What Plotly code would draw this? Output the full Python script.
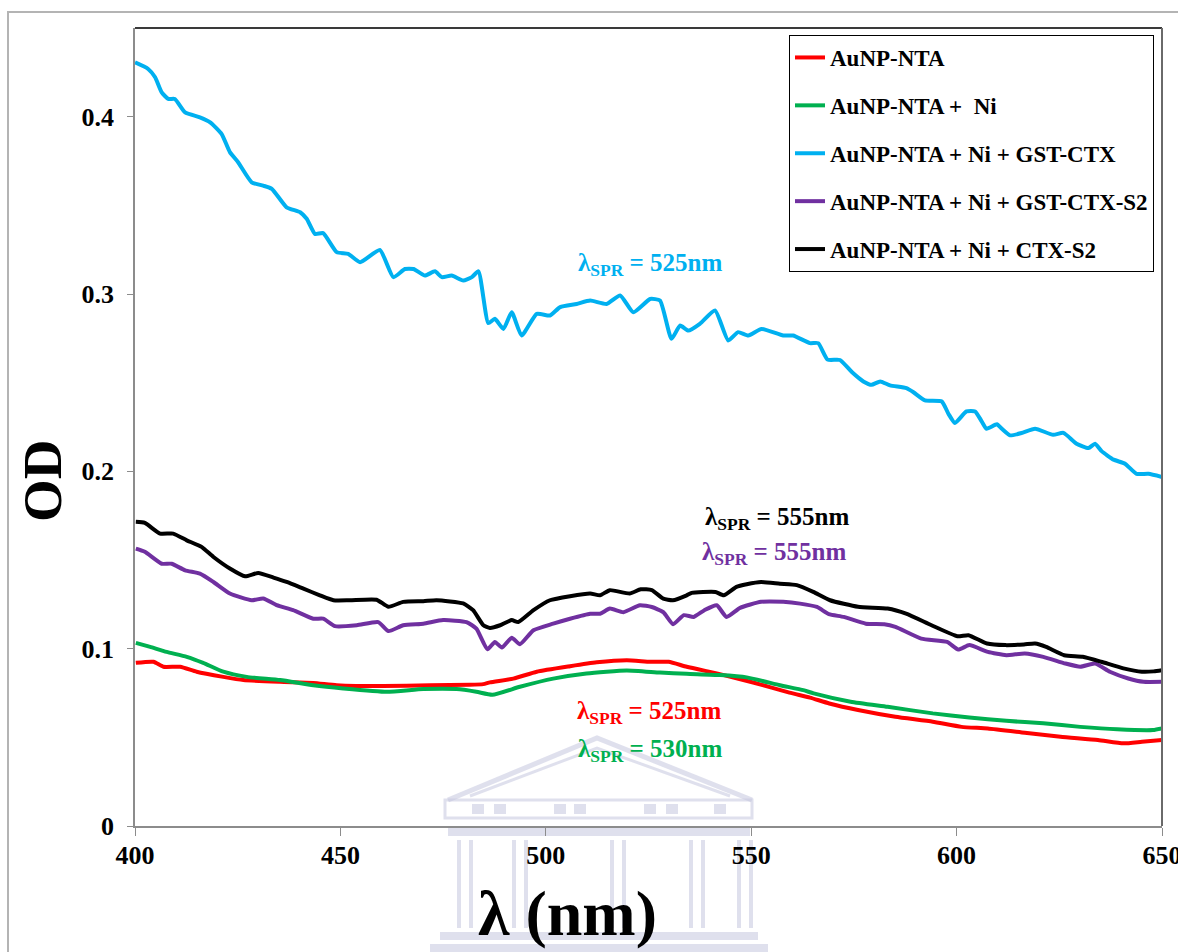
import plotly.graph_objects as go

# ---- UV-Vis spectra (wavelength in nm, optical density) ----
wl_ntA = [400.2, 404.5, 406.9, 411.0, 415.0, 421.5, 426.4, 435.3, 443.4, 449.1, 460.4, 471.8,
          481.5, 484.8, 486.4, 492.1, 497.8, 505.9, 512.4, 519.7, 525.4, 529.9, 534.3, 542.6,
          550.7, 559.3, 564.3, 569.0, 576.0, 585.1, 594.2, 601.2, 607.6, 616.6, 625.3, 634.4,
          640.6, 645.1, 650.0]
od_ntA = [0.0920, 0.0926, 0.0898, 0.0898, 0.0870, 0.0841, 0.0823, 0.0813, 0.0807, 0.0794, 0.0789, 0.0794,
          0.0796, 0.0800, 0.0810, 0.0831, 0.0870, 0.0901, 0.0923, 0.0935, 0.0926, 0.0926, 0.0898, 0.0855,
          0.0808, 0.0752, 0.0724, 0.0691, 0.0654, 0.0616, 0.0588, 0.0559, 0.0550, 0.0526, 0.0503, 0.0485,
          0.0466, 0.0475, 0.0485]

wl_ni = [400.2, 403.7, 407.7, 412.6, 416.6, 421.5, 427.2, 435.3, 443.4, 450.7, 461.3, 470.2,
         478.3, 483.1, 487.0, 493.7, 501.8, 509.9, 519.7, 527.8, 534.3, 542.4, 548.9, 557.0,
         562.7, 565.2, 574.2, 583.2, 594.2, 603.1, 612.1, 621.1, 630.1, 639.1, 647.8, 650.0]
od_ni = [0.1033, 0.1010, 0.0982, 0.0954, 0.0920, 0.0870, 0.0841, 0.0823, 0.0794, 0.0776, 0.0757, 0.0772,
         0.0772, 0.0757, 0.0740, 0.0785, 0.0831, 0.0860, 0.0877, 0.0865, 0.0858, 0.0851, 0.0838, 0.0794,
         0.0766, 0.0748, 0.0701, 0.0672, 0.0635, 0.0612, 0.0593, 0.0579, 0.0559, 0.0545, 0.0541, 0.0550]

wl_gst = [400.0, 403.2, 404.9, 406.5, 408.1, 409.7, 412.2, 415.8, 418.3, 421.1, 423.1, 425.1,
          428.4, 431.2, 433.3, 436.9, 440.2, 441.8, 443.8, 445.8, 449.1, 451.9, 454.8, 459.6,
          462.9, 465.7, 467.8, 470.6, 473.0, 474.7, 477.1, 479.9, 482.0, 483.6, 486.0, 487.6,
          489.7, 491.7, 494.1, 497.8, 501.0, 503.5, 507.5, 510.8, 514.8, 518.1, 521.3, 525.4,
          527.8, 530.6, 532.7, 534.7, 537.5, 541.2, 544.4, 546.8, 549.3, 552.5, 557.8, 560.2,
          564.3, 566.3, 568.6, 571.6, 574.5, 577.3, 579.3, 581.4, 583.8, 587.8, 589.5, 592.3,
          596.4, 598.0, 599.6, 602.4, 604.5, 606.1, 607.3, 609.8, 611.0, 613.0, 615.8, 619.1,
          623.5, 626.0, 629.2, 632.1, 633.7, 635.3, 638.2, 641.0, 643.8, 646.7, 650.0]
od_gst = [0.4306, 0.4269, 0.4222, 0.4137, 0.4100, 0.4100, 0.4024, 0.3996, 0.3968, 0.3902, 0.3800, 0.3743,
          0.3630, 0.3611, 0.3593, 0.3489, 0.3461, 0.3424, 0.3339, 0.3343, 0.3236, 0.3226, 0.3179, 0.3248,
          0.3095, 0.3141, 0.3141, 0.3104, 0.3128, 0.3095, 0.3104, 0.3076, 0.3095, 0.3128, 0.2836, 0.2860,
          0.2803, 0.2897, 0.2766, 0.2888, 0.2879, 0.2926, 0.2944, 0.2963, 0.2944, 0.2992, 0.2897, 0.2972,
          0.2963, 0.2747, 0.2822, 0.2794, 0.2832, 0.2907, 0.2738, 0.2785, 0.2766, 0.2803, 0.2766, 0.2766,
          0.2723, 0.2723, 0.2630, 0.2628, 0.2560, 0.2507, 0.2488, 0.2507, 0.2485, 0.2469, 0.2446, 0.2400,
          0.2394, 0.2325, 0.2273, 0.2338, 0.2338, 0.2282, 0.2240, 0.2265, 0.2240, 0.2203, 0.2216, 0.2240,
          0.2206, 0.2217, 0.2156, 0.2131, 0.2156, 0.2114, 0.2066, 0.2043, 0.1986, 0.1986, 0.1968]

wl_gst_s2 = [400.2, 402.4, 406.5, 408.9, 412.2, 415.8, 419.1, 423.1, 428.4, 431.2, 434.5, 438.5,
             443.4, 445.8, 448.7, 454.0, 459.2, 461.7, 465.3, 470.2, 475.0, 480.7, 483.1, 485.8,
             487.6, 489.3, 491.7, 493.7, 497.0, 501.8, 505.9, 510.8, 513.2, 515.6, 518.9, 522.9,
             525.8, 528.6, 531.0, 533.6, 536.0, 538.6, 541.6, 544.0, 547.3, 552.4, 557.8, 561.9,
             566.0, 568.9, 572.5, 577.9, 582.4, 585.1, 591.4, 597.7, 600.4, 603.1, 607.6, 612.1,
             616.6, 621.1, 626.5, 630.1, 633.7, 637.3, 641.8, 645.5, 650.0]
od_gst_s2 = [0.1564, 0.1546, 0.1479, 0.1479, 0.1442, 0.1423, 0.1376, 0.1311, 0.1273, 0.1283, 0.1245, 0.1217,
             0.1169, 0.1169, 0.1127, 0.1132, 0.1150, 0.1099, 0.1132, 0.1141, 0.1161, 0.1150, 0.1113, 0.0996,
             0.1038, 0.1006, 0.1062, 0.1025, 0.1104, 0.1141, 0.1169, 0.1197, 0.1197, 0.1226, 0.1206, 0.1245,
             0.1235, 0.1206, 0.1138, 0.1189, 0.1179, 0.1217, 0.1245, 0.1179, 0.1230, 0.1264, 0.1264, 0.1254,
             0.1235, 0.1195, 0.1179, 0.1141, 0.1138, 0.1123, 0.1057, 0.1038, 0.0995, 0.1020, 0.0982, 0.0963,
             0.0973, 0.0954, 0.0916, 0.0898, 0.0916, 0.0870, 0.0832, 0.0813, 0.0813]

wl_ctx_s2 = [400.2, 402.4, 406.1, 409.3, 412.6, 416.2, 419.1, 423.1, 426.8, 430.0, 433.7, 436.9,
             441.0, 445.0, 448.3, 452.3, 458.8, 461.7, 465.3, 470.2, 473.4, 479.9, 482.3, 484.8,
             486.4, 488.9, 491.7, 493.3, 497.0, 501.0, 505.9, 510.8, 513.2, 515.6, 520.4, 523.1,
             525.8, 528.6, 530.9, 534.3, 535.5, 538.3, 541.3, 543.3, 546.4, 548.9, 552.4, 557.0,
             561.1, 565.1, 569.2, 576.0, 583.2, 587.7, 593.9, 600.2, 602.9, 607.4, 611.9, 616.4,
             619.1, 621.8, 626.2, 630.7, 635.2, 640.6, 645.1, 648.0, 650.0]
od_ctx_s2 = [0.1715, 0.1709, 0.1649, 0.1649, 0.1611, 0.1574, 0.1517, 0.1452, 0.1408, 0.1427, 0.1401, 0.1376,
             0.1338, 0.1301, 0.1273, 0.1273, 0.1276, 0.1236, 0.1264, 0.1268, 0.1273, 0.1255, 0.1217, 0.1132,
             0.1117, 0.1132, 0.1161, 0.1150, 0.1217, 0.1273, 0.1296, 0.1311, 0.1301, 0.1330, 0.1311, 0.1335,
             0.1330, 0.1282, 0.1273, 0.1301, 0.1315, 0.1320, 0.1320, 0.1301, 0.1348, 0.1363, 0.1376, 0.1366,
             0.1358, 0.1320, 0.1273, 0.1236, 0.1226, 0.1197, 0.1132, 0.1070, 0.1076, 0.1029, 0.1020, 0.1024,
             0.1029, 0.1010, 0.0963, 0.0954, 0.0926, 0.0889, 0.0870, 0.0872, 0.0879]

series_names = ["AuNP-NTA", "AuNP-NTA +&nbsp; Ni", "AuNP-NTA + Ni + GST-CTX",
                "AuNP-NTA + Ni + GST-CTX-S2", "AuNP-NTA + Ni + CTX-S2"]
series_colors = ["#FF0000", "#00B050", "#00B0F0", "#7030A0", "#000000"]
series_x = [wl_ntA, wl_ni, wl_gst, wl_gst_s2, wl_ctx_s2]
series_y = [od_ntA, od_ni, od_gst, od_gst_s2, od_ctx_s2]

# SPR peak labels: (wavelength, OD position, text, colour)
spr_labels = [
    (525.4, 0.3166, "525nm", "#00B0F0"),
    (556.3, 0.1735, "555nm", "#000000"),
    (555.6, 0.1538, "555nm", "#7030A0"),
    (525.2, 0.0642, "525nm", "#FF0000"),
    (525.4, 0.0428, "530nm", "#00B050"),
]

X_TICKS = [400, 450, 500, 550, 600, 650]
Y_TICKS = [0, 0.1, 0.2, 0.3, 0.4]

FONT = "Liberation Serif, Times New Roman, serif"
W, H = 1178, 952
L, R, T, B = 135, 16, 28, 126
PW, PH = W - L - R, H - T - B


def px(x):
    return (x - L) / PW


def py(y):
    return (H - B - y) / PH


fig = go.Figure()
for name, col, xs, ys in zip(series_names, series_colors, series_x, series_y):
    fig.add_trace(go.Scatter(
        x=xs, y=ys, mode="lines", name=name, legendgroup=name,
        line=dict(color=col, width=4, shape="spline", smoothing=0.5),
    ))

annotations = []
for wl, od, txt, col in spr_labels:
    annotations.append(dict(
        x=wl, y=od, xref="x", yref="y", showarrow=False,
        xanchor="center", yanchor="middle",
        text="λ<sub>SPR</sub> = " + txt,
        font=dict(family=FONT, size=25, color=col, weight="bold"),
    ))

annotations.append(dict(
    x=px(42), y=py(481), xref="paper", yref="paper", showarrow=False,
    xanchor="center", yanchor="middle",
    text="OD", textangle=-90,
    font=dict(family=FONT, size=55, color="#000000", weight="bold"),
))
annotations.append(dict(
    x=px(567), y=py(913), xref="paper", yref="paper", showarrow=False,
    xanchor="center", yanchor="middle",
    text="λ (nm)",
    font=dict(family=FONT, size=64, color="#000000", weight="bold"),
))

wm = "rgba(196,198,222,0.55)"
wm_line = dict(color=wm, width=5)
shapes = [
    # outer frame
    dict(type="rect", xref="paper", yref="paper", x0=px(8), y0=py(12), x1=px(1300), y1=py(1100),
         line=dict(color="#b4b4b4", width=2), layer="below"),
    # faint emblem in the background
    dict(type="path", xref="paper", yref="paper", layer="below",
         path=f"M {px(448)},{py(800)} L {px(597)},{py(738)} L {px(752)},{py(800)}",
         line=wm_line),
    dict(type="path", xref="paper", yref="paper", layer="below",
         path=f"M {px(470)},{py(796)} L {px(597)},{py(748)} L {px(730)},{py(796)}",
         line=dict(color=wm, width=3)),
    dict(type="rect", xref="paper", yref="paper", layer="below",
         x0=px(445), x1=px(752), y0=py(800), y1=py(818), line=dict(color=wm, width=3)),
    dict(type="rect", xref="paper", yref="paper", layer="below",
         x0=px(448), x1=px(750), y0=py(828), y1=py(836), fillcolor=wm, line=dict(width=0)),
    dict(type="rect", xref="paper", yref="paper", layer="below",
         x0=px(440), x1=px(758), y0=py(932), y1=py(940), fillcolor=wm, line=dict(width=0)),
    dict(type="rect", xref="paper", yref="paper", layer="below",
         x0=px(430), x1=px(768), y0=py(944), y1=py(952), fillcolor=wm, line=dict(width=0)),
]
for cx in [465, 520, 618, 697, 745]:
    for dx in (-6, 6):
        shapes.append(dict(type="line", xref="paper", yref="paper", layer="below",
                           x0=px(cx + dx), x1=px(cx + dx), y0=py(840), y1=py(928),
                           line=dict(color=wm, width=4)))
for cx in [478, 500, 560, 580, 650, 672, 720]:
    shapes.append(dict(type="rect", xref="paper", yref="paper", layer="below",
                       x0=px(cx - 6), x1=px(cx + 6), y0=py(804), y1=py(814),
                       fillcolor=wm, line=dict(width=0)))
# plot frame: dark top edge and right edge
shapes.append(dict(type="line", xref="paper", yref="paper", x0=0, x1=1, y0=1, y1=1,
                   line=dict(color="#3a3a3a", width=2)))
shapes.append(dict(type="line", xref="paper", yref="paper", x0=1, x1=1, y0=0, y1=1,
                   line=dict(color="#6a6a6a", width=2)))

fig.update_layout(
    width=W, height=H,
    margin=dict(l=L, r=R, t=T, b=B, autoexpand=False),
    paper_bgcolor="white", plot_bgcolor="white",
    font=dict(family=FONT, color="#000000"),
    showlegend=True,
    legend=dict(
        x=px(789), y=py(35), xanchor="left", yanchor="top",
        bgcolor="white", bordercolor="#000000", borderwidth=1,
        font=dict(family=FONT, size=23, color="#000000", weight="bold"),
        tracegroupgap=15, traceorder="grouped", itemwidth=30,
    ),
    xaxis=dict(
        range=[400, 650], tickmode="array", tickvals=X_TICKS,
        showgrid=False, zeroline=False, showline=True, linecolor="#8c8c8c", linewidth=1.5,
        ticks="outside", ticklen=8, tickcolor="#8c8c8c", tickwidth=1,
        tickfont=dict(family=FONT, size=26, color="#000000", weight="bold"),
        ticklabelstandoff=-3, ticklabeloverflow="allow", automargin=False,
    ),
    yaxis=dict(
        range=[0, 0.45], tickmode="array", tickvals=Y_TICKS,
        ticktext=["0", "0.1", "0.2", "0.3", "0.4"],
        showgrid=False, zeroline=False, showline=True, linecolor="#8c8c8c", linewidth=1.5,
        ticks="outside", ticklen=6, tickcolor="#8c8c8c", tickwidth=1,
        tickfont=dict(family=FONT, size=26, color="#000000", weight="bold"),
        ticklabelstandoff=8, automargin=False,
    ),
    annotations=annotations,
    shapes=shapes,
)

fig.write_html("out.html")
